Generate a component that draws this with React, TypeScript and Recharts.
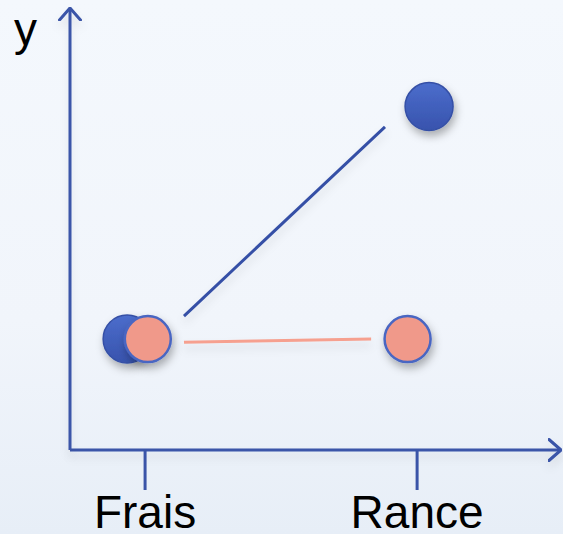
import React from 'react';
import { ComposedChart, Scatter, Line, XAxis, YAxis, Label } from 'recharts';

// category ticks on the x axis (0 = Frais, 1 = Rance)
const CATEGORIES = ['Frais', 'Rance'];
const TICKS = [0, 1];

// points (x in category units, y on a 0-10 scale)
const BLUE_POINTS = [
    { x: -0.066, y: 2.51 },
    { x: 1.044, y: 7.77 },
];
const SALMON_POINTS = [
    { x: 0.01, y: 2.51 },
    { x: 0.965, y: 2.51 },
];

// the connecting segments stop short of the dots
const BLUE_SEGMENT = [
    { x: 0.143, y: 3.03 },
    { x: 0.882, y: 7.31 },
];
const SALMON_SEGMENT = [
    { x: 0.143, y: 2.44 },
    { x: 0.831, y: 2.51 },
];

const AXIS = '#3a54a8';
const FONT = '"Liberation Sans", Arial, sans-serif';

// eslint-disable-next-line @typescript-eslint/no-explicit-any
const BlueDot = (props: any) => {
    const { cx, cy } = props;
    return (
        <circle cx={cx} cy={cy} r={24} fill="url(#blueFill)" stroke="#3550a6" strokeWidth={1.5} filter="url(#dropShadow)" />
    );
};

// eslint-disable-next-line @typescript-eslint/no-explicit-any
const SalmonDot = (props: any) => {
    const { cx, cy } = props;
    return (
        <circle cx={cx} cy={cy} r={23} fill="#f0998a" stroke="#4a66c2" strokeWidth={2.5} filter="url(#dropShadow)" />
    );
};

// eslint-disable-next-line @typescript-eslint/no-explicit-any
const YLabel = (props: any) => {
    const { viewBox } = props;
    return (
        <text x={viewBox.x + 14} y={viewBox.y + 37} fontSize={46} fontFamily={FONT} fill="#000">
            y
        </text>
    );
};

export default function App() {
    return (
        <div
            style={{
                position: 'absolute',
                left: 0,
                top: 0,
                width: 563,
                height: 534,
                background: 'linear-gradient(180deg, #f4f8fd 0%, #f1f5fb 60%, #e7eef7 100%)',
            }}
        >
            <ComposedChart width={563} height={534} margin={{ top: 8, right: 2, left: 0, bottom: 0 }}>
                <defs>
                    <marker id="arrowHead" viewBox="0 0 14 24" refX={13} refY={12} markerWidth={14} markerHeight={24} markerUnits="userSpaceOnUse" orient="auto-start-reverse">
                        <path d="M1,1.5 L13,12 L1,22.5" fill="none" stroke={AXIS} strokeWidth={3} strokeLinecap="round" strokeLinejoin="round" />
                    </marker>
                    <linearGradient id="blueFill" x1="0" y1="0" x2="0" y2="1">
                        <stop offset="0%" stopColor="#4b6dcc" />
                        <stop offset="100%" stopColor="#3853ad" />
                    </linearGradient>
                    <filter id="dropShadow" x="-50%" y="-50%" width="200%" height="200%">
                        <feDropShadow dx={2} dy={5} stdDeviation={4} floodColor="#000" floodOpacity={0.3} />
                    </filter>
                    {/* user space units, otherwise straight axis lines get a zero-size filter box */}
                    <filter id="lineShadow" filterUnits="userSpaceOnUse" x={0} y={0} width={563} height={534}>
                        <feDropShadow dx={0} dy={6} stdDeviation={4} floodColor="#000" floodOpacity={0.1} />
                    </filter>
                </defs>
                <XAxis
                    type="number"
                    dataKey="x"
                    domain={[-0.276, 1.529]}
                    ticks={TICKS}
                    tickFormatter={(v) => CATEGORIES[v] ?? ''}
                    allowDataOverflow
                    height={84}
                    tickSize={40}
                    tickMargin={5}
                    axisLine={{ stroke: AXIS, strokeWidth: 3, markerEnd: 'url(#arrowHead)', filter: 'url(#lineShadow)' }}
                    tickLine={{ stroke: AXIS, strokeWidth: 3 }}
                    tick={{ fill: '#000', fontSize: 46, fontFamily: FONT }}
                />
                <YAxis
                    type="number"
                    dataKey="y"
                    domain={[0, 10]}
                    allowDataOverflow
                    width={70}
                    tick={false}
                    tickLine={false}
                    axisLine={{ stroke: AXIS, strokeWidth: 3, markerStart: 'url(#arrowHead)', filter: 'url(#lineShadow)' }}
                >
                    <Label content={<YLabel />} />
                </YAxis>
                <Line
                    data={BLUE_SEGMENT}
                    dataKey="y"
                    type="linear"
                    stroke="#3550a6"
                    strokeWidth={3}
                    dot={false}
                    activeDot={false}
                    filter="url(#lineShadow)"
                    isAnimationActive={false}
                />
                <Line
                    data={SALMON_SEGMENT}
                    dataKey="y"
                    type="linear"
                    stroke="#f6a08f"
                    strokeWidth={3}
                    dot={false}
                    activeDot={false}
                    filter="url(#lineShadow)"
                    isAnimationActive={false}
                />
                <Scatter data={BLUE_POINTS} dataKey="y" shape={<BlueDot />} isAnimationActive={false} />
                <Scatter data={SALMON_POINTS} dataKey="y" shape={<SalmonDot />} isAnimationActive={false} />
            </ComposedChart>
        </div>
    );
}
